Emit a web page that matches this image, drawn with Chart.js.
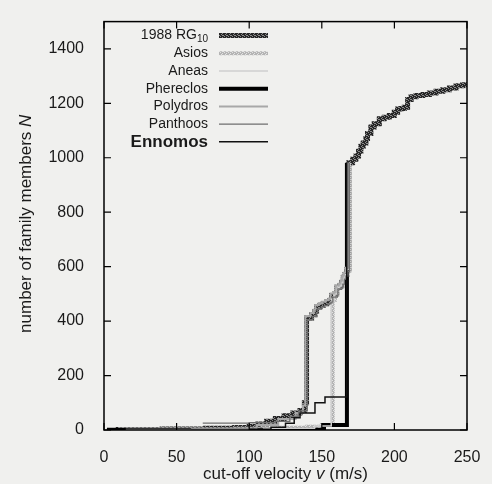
<!DOCTYPE html>
<html>
<head>
<meta charset="utf-8">
<script src="https://cdn.jsdelivr.net/npm/chart.js@4.4.1/dist/chart.umd.min.js"></script>
<style>
  html, body { margin: 0; padding: 0; background: #f0f0ee; }
  #wrap { width: 492px; height: 484px; }
</style>
</head>
<body>
<div id="wrap"><canvas id="chart" width="492" height="484"></canvas></div>
<script>
// axis ticks
const xTicks = [0, 50, 100, 150, 200, 250];
const yTicks = [0, 200, 400, 600, 800, 1000, 1200, 1400];

// legend order (top to bottom)
const seriesNames = ['1988 RG10', 'Asios', 'Aneas', 'Phereclos', 'Polydros', 'Panthoos', 'Ennomos'];

// cumulative number of members N vs cut-off velocity v
const rg10V = [8, 40, 70, 90, 100, 106, 112, 118, 124, 130, 135, 138, 139.5, 143, 145.3, 146.4, 148.8, 151, 153.4, 155.6,
  156.8, 159.1, 160.3, 162.5, 163.7, 164.8, 166, 167.2, 168.6, 171.2, 173.5, 175.3, 176.9, 178.5, 180.4, 181.5, 183.8,
  186.1, 189.6, 193, 196.5, 199.9, 202.2, 204.6, 206.8, 209.1, 211.5, 214.9, 219.5, 224.1, 228.7, 233.3, 237.9, 242.5, 247.1, 250];
const rg10N = [2, 4, 6, 9, 14, 22, 32, 42, 52, 62, 72, 100, 411, 423, 435, 452, 458, 464, 470, 476,
  494, 500, 524, 530, 542, 560, 571, 589, 982, 994, 1006, 1024, 1042, 1054, 1071, 1089, 1113,
  1125, 1143, 1149, 1155, 1167, 1179, 1181, 1185, 1214, 1224, 1229, 1232, 1238, 1244, 1250, 1256, 1264, 1268, 1270];

const asiosV = [10, 90, 120, 140, 150, 157.5, 159.1, 160.3, 162.5, 163.7, 164.8, 166, 167.2, 168.6];
const asiosN = [3, 5, 8, 12, 18, 478, 500, 524, 530, 542, 560, 571, 589, 982];

const aneasV = [15, 110, 145, 156.5, 158.5, 160, 162, 163.5, 164.5, 166, 167.5, 169];
const aneasN = [2, 6, 15, 470, 497, 520, 528, 540, 556, 570, 590, 982];

const phereclosV = [2, 151.5, 167.3];
const phereclosN = [1, 18, 982];

const polydrosV = [60, 105, 120, 132, 137, 138.6, 142.2, 144.5, 145.6, 148, 150.2, 152.6, 154.8, 156, 158.3,
  159.5, 161.7, 162.9, 164, 165.2, 166.4, 167.8];
const polydrosN = [3, 18, 40, 62, 90, 418, 430, 442, 459, 465, 471, 477, 483, 501, 507,
  531, 537, 549, 567, 578, 596, 982];

const panthoosV = [68, 100, 118, 128, 134, 140, 143.8, 146.1, 147.2, 149.6, 151.8, 154.2, 156.4, 157.6, 159.9,
  161.1, 163.3, 164.5, 165.6, 166.8, 168, 169];
const panthoosN = [25, 27, 32, 50, 70, 405, 417, 429, 446, 452, 458, 464, 470, 488, 494,
  518, 524, 536, 554, 565, 583, 982];

const ennomosV = [100, 115, 125, 131, 135, 145.3, 152.2, 167.2];
const ennomosN = [3, 10, 25, 45, 62, 100, 121, 982];

const pts = (vs, ns) => vs.map((v, i) => ({ x: v, y: ns[i] }));

// speckled stroke, like the thick patterned lines of the print
function speckle(base, dots) {
  const c = document.createElement('canvas');
  c.width = c.height = 4;
  const g = c.getContext('2d');
  g.fillStyle = base;
  g.fillRect(0, 0, 4, 4);
  g.fillStyle = dots;
  [[0, 0], [2, 1], [3, 3], [1, 2], [2, 3]].forEach(([x, y]) => g.fillRect(x, y, 1, 1));
  return g.createPattern(c, 'repeat');
}

function line(label, vs, ns, color, width) {
  return {
    label: label,
    data: pts(vs, ns),
    borderColor: color,
    borderWidth: width,
    stepped: 'before', // horizontal first, then the jump
    pointRadius: 0,
    fill: false
  };
}

// first dataset is drawn on top
const datasets = [
  line('Ennomos', ennomosV, ennomosN, '#111111', 1.5),
  line('Panthoos', panthoosV, panthoosN, '#6e6e6e', 1.3),
  line('Polydros', polydrosV, polydrosN, '#a8a8a8', 2),
  line('Aneas', aneasV, aneasN, '#cfcfcf', 1.5),
  line('Phereclos', phereclosV, phereclosN, '#000000', 4),
  line('Asios', asiosV, asiosN, speckle('#b4b4b4', '#e2e2e2'), 4),
  line('1988 RG10', rg10V, rg10N, speckle('#262626', '#8a8a8a'), 5)
];

const ink = '#1a1a1a';
const fam = '"Liberation Sans", Arial, sans-serif';

function drawParts(ctx, parts, x, y, align) {
  let total = 0;
  parts.forEach(p => { ctx.font = p.font; total += ctx.measureText(p.text).width; });
  let cx = align === 'right' ? x - total : align === 'center' ? x - total / 2 : x;
  parts.forEach(p => {
    ctx.font = p.font;
    ctx.fillText(p.text, cx, y + (p.dy || 0));
    cx += ctx.measureText(p.text).width;
  });
}

const decor = {
  id: 'decor',
  beforeDraw(chart) {
    const ctx = chart.ctx;
    ctx.save();
    ctx.fillStyle = '#f0f0ee';
    ctx.fillRect(0, 0, chart.width, chart.height);
    ctx.restore();
  },
  afterDraw(chart) {
    const ctx = chart.ctx;
    const a = chart.chartArea;
    const xs = chart.scales.x, ys = chart.scales.y;
    ctx.save();
    // frame
    ctx.strokeStyle = '#000';
    ctx.lineWidth = 1.5;
    ctx.strokeRect(a.left, a.top, a.right - a.left, a.bottom - a.top);
    // inward ticks on all sides
    ctx.lineWidth = 1.2;
    ctx.beginPath();
    xTicks.forEach(v => {
      const px = xs.getPixelForValue(v);
      ctx.moveTo(px, a.bottom); ctx.lineTo(px, a.bottom - 7);
      ctx.moveTo(px, a.top); ctx.lineTo(px, a.top + 7);
    });
    yTicks.forEach(v => {
      const py = ys.getPixelForValue(v);
      ctx.moveTo(a.left, py); ctx.lineTo(a.left + 7, py);
      ctx.moveTo(a.right, py); ctx.lineTo(a.right - 7, py);
    });
    ctx.stroke();

    // axis titles
    ctx.fillStyle = ink;
    ctx.textBaseline = 'middle';
    const n = '17px ' + fam, it = 'italic 17px ' + fam;
    drawParts(ctx, [
      { text: 'cut-off velocity ', font: n },
      { text: 'v', font: it },
      { text: ' (m/s)', font: n }
    ], (a.left + a.right) / 2, 474, 'center');
    ctx.save();
    ctx.translate(26, (a.top + a.bottom) / 2 - 2);
    ctx.rotate(-Math.PI / 2);
    drawParts(ctx, [
      { text: 'number of family members ', font: n },
      { text: 'N', font: it }
    ], 0, 0, 'center');
    ctx.restore();

    // legend
    const textRight = 208, lx0 = 219, lx1 = 268;
    seriesNames.forEach((name, i) => {
      const ds = chart.data.datasets.find(d => d.label === name);
      const y = a.top + 14 + i * 17.7;
      ctx.fillStyle = ink;
      if (name === '1988 RG10') {
        drawParts(ctx, [
          { text: '1988 RG', font: '14px ' + fam },
          { text: '10', font: '10px ' + fam, dy: 4 }
        ], textRight, y, 'right');
      } else if (name === 'Ennomos') {
        drawParts(ctx, [{ text: name, font: 'bold 17px ' + fam }], textRight, y + 1, 'right');
      } else {
        drawParts(ctx, [{ text: name, font: '14px ' + fam }], textRight, y, 'right');
      }
      ctx.strokeStyle = ds.borderColor;
      ctx.lineWidth = ds.borderWidth;
      ctx.beginPath();
      ctx.moveTo(lx0, y); ctx.lineTo(lx1, y);
      ctx.stroke();
    });
    ctx.restore();
  }
};

new Chart(document.getElementById('chart'), {
  type: 'line',
  data: { datasets: datasets },
  options: {
    responsive: false,
    animation: false,
    devicePixelRatio: 1,
    layout: { padding: { left: 0, top: 10, right: 25, bottom: 0 } },
    plugins: { legend: { display: false }, tooltip: { enabled: false } },
    scales: {
      x: {
        type: 'linear',
        min: 0, max: 250,
        afterBuildTicks: s => { s.ticks = xTicks.map(v => ({ value: v })); },
        afterFit: s => { s.height = 54; },
        grid: { display: false },
        border: { display: false },
        ticks: { color: ink, padding: 10, font: { family: fam, size: 16 }, maxRotation: 0, callback: v => String(v) }
      },
      y: {
        type: 'linear',
        min: 0, max: 1500,
        afterBuildTicks: s => { s.ticks = yTicks.map(v => ({ value: v })); },
        afterFit: s => { s.width = 104; },
        grid: { display: false },
        border: { display: false },
        ticks: { color: ink, padding: 12, font: { family: fam, size: 16 }, callback: v => String(v) }
      }
    }
  },
  plugins: [decor]
});
</script>
</body>
</html>
